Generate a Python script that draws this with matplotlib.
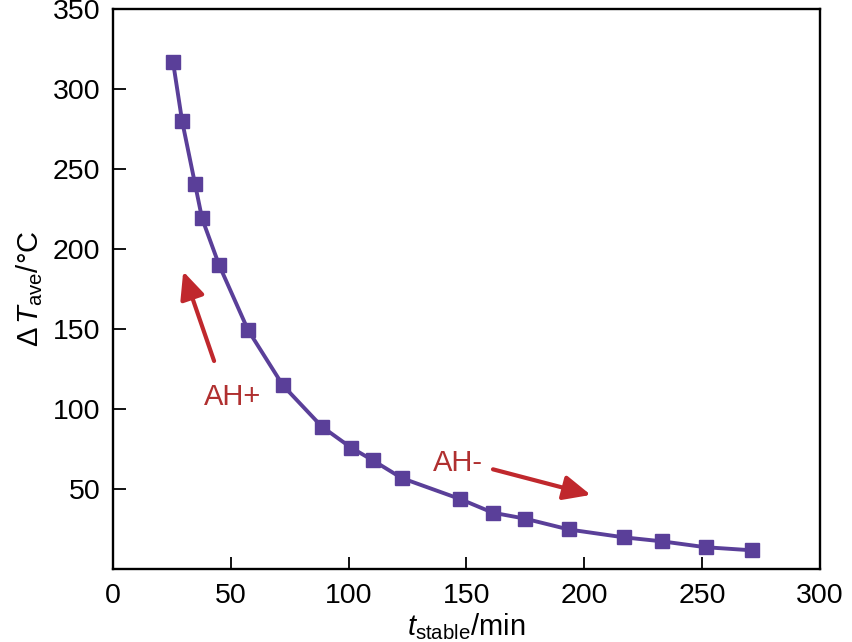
import matplotlib.pyplot as plt

plt.rcParams['font.family'] = ['Liberation Sans', 'DejaVu Sans']
plt.rcParams['mathtext.fontset'] = 'custom'
plt.rcParams['mathtext.rm'] = 'Liberation Sans'
plt.rcParams['mathtext.it'] = 'Liberation Sans:italic'

# data
t_stable = [25.5, 29.3, 34.8, 37.8, 45.0, 57.3, 72.1, 88.7, 101.0, 110.3,
            122.6, 147.2, 161.2, 174.8, 193.5, 216.8, 233.0, 251.6, 271.1]
dT_ave = [316.7, 280.2, 240.7, 219.1, 190.1, 149.4, 114.8, 88.9, 75.9, 67.9,
          56.8, 43.8, 35.2, 31.5, 24.7, 19.8, 17.3, 13.6, 11.7]

x_ticks = [0, 50, 100, 150, 200, 250, 300]
y_ticks = [50, 100, 150, 200, 250, 300, 350]

line_clr = '#5a3f99'
red = '#c0282d'

fig = plt.figure(figsize=(8.53, 6.42), dpi=100)
ax = fig.add_axes([0.1325, 0.1137, 0.8285, 0.8723])

ax.plot(t_stable, dT_ave, color=line_clr, lw=2.8, marker='s', ms=10,
        mec=line_clr, mfc=line_clr)

ax.set_xlim(0, 300)
ax.set_ylim(0, 350)
ax.set_xticks(x_ticks)
ax.set_yticks(y_ticks)
ax.tick_params(direction='in', length=9, width=1.3, labelsize=20.5, top=False, right=False)
ax.tick_params(axis='x', pad=10)
ax.tick_params(axis='y', pad=9)
for s in ax.spines.values():
    s.set_linewidth(1.7)

ax.set_xlabel(r'$t_{\rm stable}$/min', fontsize=21, labelpad=2)
ax.set_ylabel(r'$\Delta\,T_{\rm ave}$/°C', fontsize=21, labelpad=6)

# arrows and annotations
arw = dict(arrowstyle='-|>,head_length=1.1,head_width=0.5', color=red, lw=3,
           mutation_scale=15, shrinkA=0, shrinkB=0)
ax.annotate('', xy=(29.8, 186), xytext=(42.9, 130), arrowprops=arw)
ax.text(50.9, 107.5, 'AH+', color='#b03030', fontsize=21, ha='center', va='center')

ax.annotate('', xy=(202.8, 46.3), xytext=(161.3, 62.3), arrowprops=arw)
ax.text(146.4, 66.5, 'AH-', color='#b03030', fontsize=21, ha='center', va='center')

plt.savefig('out.png', dpi=100)
plt.close()
